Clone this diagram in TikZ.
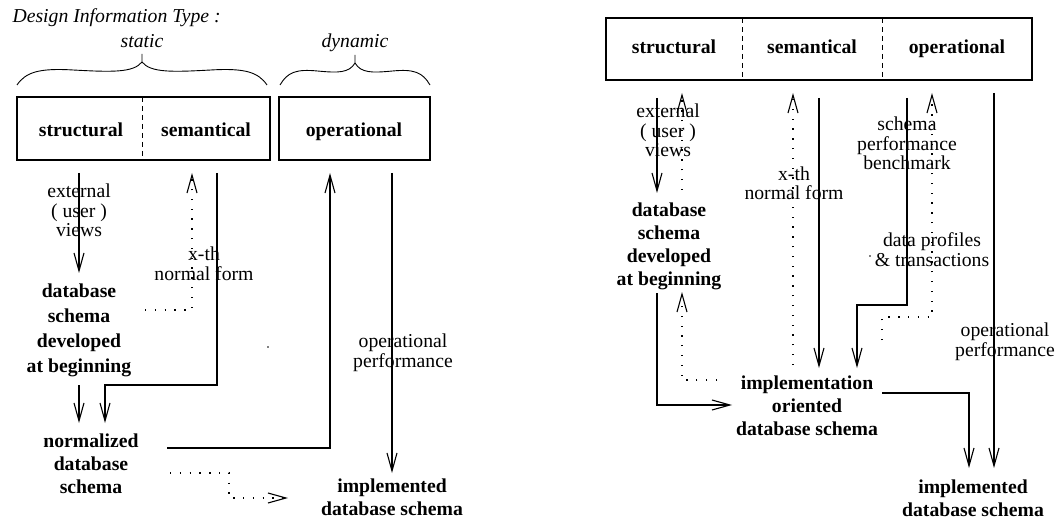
\documentclass[tikz,border=0pt]{standalone}
\usepackage{fontspec}
\setmainfont{Liberation Serif}
\usetikzlibrary{arrows.meta}
\begin{document}
\begin{tikzpicture}[x=1pt,y=-1pt,
  line width=1.1pt,
  arr/.style={-{Straight Barb[length=18pt,width=10pt]}},
  dots/.style={dash pattern=on 1.3pt off 8.5pt},
  divider/.style={dash pattern=on 5pt off 4pt, line width=0.9pt},
  typebox/.style={draw, inner sep=0pt},
  boxlbl/.style={font=\fontsize{19.7}{23}\selectfont\bfseries, anchor=base, inner sep=0pt},
  lbl/.style={font=\fontsize{19.7}{19.7}\selectfont, align=center, anchor=base, inner sep=0pt},
  schema/.style={font=\fontsize{19.7}{23}\selectfont\bfseries, align=center, anchor=base, inner sep=0pt},
  headlbl/.style={font=\fontsize{19.7}{23}\selectfont\itshape, anchor=base, inner sep=0pt}]
\useasboundingbox (0,0) rectangle (1057,521);

% multi-line nodes are placed by the baseline of their last line

% ---------------- left: information types ----------------
\node[headlbl, anchor=base west] (title) at (12,23) {Design Information Type :};
\node[headlbl] (static) at (142,48) {static};
\node[headlbl] (dynamic) at (355,48) {dynamic};

% curly braces above the boxes
\begin{scope}[shift={(142,0)}, x=125pt]
  \draw[line width=0.9pt] (-1,85) .. controls (-0.93,72) and (-0.82,68) .. (-0.55,70)
     .. controls (-0.25,72) and (-0.07,73) .. (0,62) -- (0,54);
  \draw[line width=0.9pt] (0,62) .. controls (0.07,73) and (0.25,72) .. (0.55,70)
     .. controls (0.82,68) and (0.93,72) .. (1,85);
\end{scope}
\begin{scope}[shift={(355,0)}, x=75pt]
  \draw[line width=0.9pt] (-1,85) .. controls (-0.9,72) and (-0.78,69) .. (-0.5,71)
     .. controls (-0.22,73) and (-0.08,73) .. (0,63) -- (0,55);
  \draw[line width=0.9pt] (0,63) .. controls (0.08,73) and (0.22,73) .. (0.5,71)
     .. controls (0.78,69) and (0.9,72) .. (1,85);
\end{scope}

% boxes
\node[typebox, minimum width=253pt, minimum height=63pt] (sbox) at (143.5,128.5) {};
\draw[divider] (142,97) -- (142,160);
\node[boxlbl] (struL) at (81,137) {structural};
\node[boxlbl] (semL) at (206,137) {semantical};
\node[typebox, minimum width=151pt, minimum height=63pt] (obox) at (354.5,128.5) {};
\node[boxlbl] (opL) at (354,137) {operational};

% schemas
\node[schema] (dbL) at (79,372) {database\\[1.7pt]schema\\[1.7pt]developed\\[1.7pt]at beginning};
\node[schema] (normL) at (91,493) {normalized\\database\\schema};
\node[schema] (implL) at (392,515) {implemented\\database schema};

% labels
\node[lbl] (extL) at (79,237) {external\\( user )\\views};
\node[lbl] (xthL) at (204,280) {x-th\\normal form};
\node[lbl] (perfL) at (403,367) {operational\\performance};

% connectors
\draw[arr] (79,173) -- (79,273);
\draw[dots, arr] (145,310) -- (192,310) -- (192,173);
\draw[arr] (217,173) -- (217,385) -- (105,385) -- (105,423);
\draw[arr] (79,385) -- (79,423);
\draw[arr] (167,448) -- (330,448) -- (330,173);
\draw[arr] (392,173) -- (392,473);
\draw[dots, arr] (170,473) -- (229,473) -- (229,498) -- (288,498);
\fill (268,347) circle (0.8);

% ---------------- right: combined view ----------------
\node[typebox, minimum width=426pt, minimum height=62pt] (rbox) at (819,49) {};
\draw[divider] (742,18) -- (742,80);
\draw[divider] (882,18) -- (882,80);
\node[boxlbl] (struR) at (674,54) {structural};
\node[boxlbl] (semR) at (812,54) {semantical};
\node[boxlbl] (opR) at (957,54) {operational};

\node[schema] (dbR) at (669,286) {database\\schema\\developed\\at beginning};
\node[schema] (implOR) at (807,435) {implementation\\oriented\\database schema};
\node[schema] (implR) at (973,516) {implemented\\database schema};

\node[lbl] (extR) at (668,157) {external\\( user )\\views};
\node[lbl] (xthR) at (794,200) {x-th\\normal form};
\node[lbl] (benchR) at (907,170) {schema\\performance\\benchmark};
\node[lbl] (profR) at (932,266) {data profiles\\\& transactions};
\node[lbl] (perfR) at (1005,356) {operational\\performance};

\draw[arr] (657,98) -- (657,193);
\draw[dots, arr] (682,190) -- (682,93);
\draw[arr] (657,293) -- (657,405) -- (732,405);
\draw[dots, arr] (717,380) -- (682,380) -- (682,292);
\draw[dots, arr] (793,365) -- (793,93);
\draw[arr] (819,98) -- (819,368);
\draw[arr] (907,98) -- (907,305) -- (857,305) -- (857,368);
\draw[dots, arr] (882,340) -- (882,317) -- (932,317) -- (932,93);
\draw[arr] (994,93) -- (994,468);
\draw[arr] (882,393) -- (969,393) -- (969,468);
\fill (870,256) circle (0.8);
\end{tikzpicture}
\end{document}
